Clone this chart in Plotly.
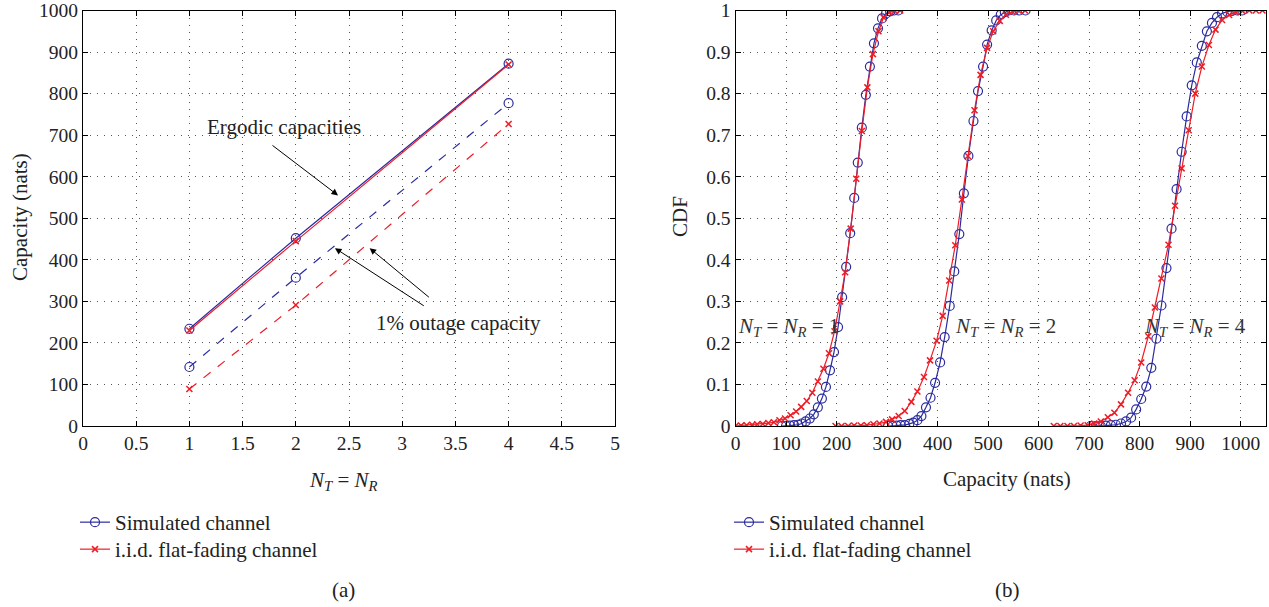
import plotly.graph_objects as go

# ---------------- data: panel (a) ----------------
nt_nr = [1, 2, 4]
ergodic_sim = [234, 452, 872]
ergodic_iid = [230, 445, 870]
outage_sim = [142, 357, 777]
outage_iid = [89, 291, 727]

# ---------------- data: panel (b) CDF curves ----------------
sim1_x = [92, 100, 108, 116, 124, 131, 139, 147, 155, 163, 171, 179, 187, 195, 203,
          211, 219, 227, 235, 242, 250, 258, 266, 274, 282, 290, 298, 306, 314, 322]
sim1_y = [0, 0, 0.001, 0.002, 0.003, 0.006, 0.011, 0.018, 0.028, 0.045, 0.066, 0.094,
          0.134, 0.178, 0.238, 0.310, 0.383, 0.464, 0.549, 0.634, 0.718, 0.797, 0.865,
          0.921, 0.957, 0.981, 0.993, 0.998, 1.0, 1.0]
iid1_x = [0, 11, 22, 33, 43, 54, 65, 76, 87, 98, 109, 120, 130, 141, 152, 163, 174,
          185, 196, 207, 217, 228, 239, 250, 261, 272, 283, 293, 304, 315, 326]
iid1_y = [0, 0.001, 0.002, 0.003, 0.004, 0.005, 0.007, 0.009, 0.014, 0.018, 0.026,
          0.035, 0.046, 0.060, 0.080, 0.107, 0.138, 0.175, 0.228, 0.300, 0.370, 0.475,
          0.595, 0.710, 0.815, 0.895, 0.950, 0.983, 0.995, 0.999, 1.0]

sim2_x = [302, 311, 319, 327, 335, 344, 352, 360, 368, 377, 386, 395, 405, 414, 424,
          433, 443, 452, 461, 471, 480, 490, 498, 507, 516, 525, 533, 541, 551, 562, 574]
sim2_y = [0, 0, 0.001, 0.002, 0.002, 0.005, 0.008, 0.014, 0.024, 0.045, 0.068, 0.104,
          0.153, 0.214, 0.289, 0.372, 0.462, 0.560, 0.650, 0.734, 0.806, 0.865, 0.918,
          0.952, 0.976, 0.990, 0.996, 1.0, 1.0, 1.0, 1.0]
iid2_x = [198, 210, 223, 235, 248, 260, 273, 285, 298, 310, 323, 335, 348, 360, 373,
          385, 398, 410, 423, 435, 448, 460, 473, 485, 498, 510, 523, 535, 548, 560, 573]
iid2_y = [0, 0, 0, 0.001, 0.001, 0.002, 0.004, 0.006, 0.010, 0.016, 0.024, 0.036,
          0.058, 0.083, 0.118, 0.158, 0.205, 0.265, 0.350, 0.435, 0.545, 0.650, 0.760,
          0.845, 0.910, 0.950, 0.975, 0.990, 0.997, 1.0, 1.0]

sim4_x = [703, 713, 723, 733, 743, 753, 763, 773, 783, 793, 803, 813, 823, 833, 843,
          853, 863, 873, 883, 893, 903, 913, 923, 933, 943, 953, 963, 973, 983, 993, 1003]
sim4_y = [0, 0, 0, 0.001, 0.002, 0.003, 0.006, 0.011, 0.020, 0.040, 0.065, 0.095,
          0.140, 0.210, 0.290, 0.380, 0.475, 0.570, 0.660, 0.745, 0.820, 0.875, 0.915,
          0.950, 0.970, 0.984, 0.993, 0.997, 0.999, 1.0, 1.0]
iid4_x = [630, 643, 657, 670, 683, 697, 710, 723, 737, 750, 763, 777, 790, 803, 817,
          830, 843, 857, 870, 883, 897, 910, 923, 937, 950, 963, 977, 990, 1003, 1017,
          1030, 1043]
iid4_y = [0, 0, 0, 0, 0.001, 0.002, 0.006, 0.011, 0.021, 0.032, 0.052, 0.080, 0.110,
          0.153, 0.216, 0.285, 0.355, 0.436, 0.530, 0.620, 0.712, 0.800, 0.865, 0.917,
          0.954, 0.977, 0.989, 0.996, 0.999, 1.0, 1.0, 1.0]

curve_labels = ["1", "2", "4"]
label_x = [0, 430, 805]
label_y = 0.238

# tick values
xa_ticks = [0, 0.5, 1, 1.5, 2, 2.5, 3, 3.5, 4, 4.5, 5]
ya_ticks = list(range(0, 1001, 100))
xb_ticks = list(range(0, 1001, 100))
yb_ticks = [0, 0.1, 0.2, 0.3, 0.4, 0.5, 0.6, 0.7, 0.8, 0.9, 1]

BLUE = "#2b2ba0"
RED = "#ee1c25"
FONT = "Liberation Serif, Times New Roman, Noto Serif, DejaVu Serif, serif"
FS = 21
TFS = 19.5
TXT = "#222222"

W = 1269.0
H = 607.0


def fx(px):
    return px / W


def fy(py):
    return (H - py) / H


fig = go.Figure()


def blue_marker():
    return dict(symbol="circle-open", size=9, color=BLUE, line=dict(width=1.2, color=BLUE))


def red_marker():
    return dict(symbol="x-thin-open", size=6, color=RED, line=dict(width=1.5, color=RED))


# panel (a)
fig.add_trace(go.Scatter(x=nt_nr, y=ergodic_sim, mode="lines+markers", name="Simulated channel",
                         line=dict(color=BLUE, width=1.2), marker=blue_marker(),
                         xaxis="x", yaxis="y", legend="legend"))
fig.add_trace(go.Scatter(x=nt_nr, y=ergodic_iid, mode="lines+markers", name="i.i.d. flat-fading channel",
                         line=dict(color=RED, width=1.2), marker=red_marker(),
                         xaxis="x", yaxis="y", legend="legend3"))
fig.add_trace(go.Scatter(x=nt_nr, y=outage_sim, mode="lines+markers", showlegend=False,
                         line=dict(color=BLUE, width=1.2, dash="dash"), marker=blue_marker(),
                         xaxis="x", yaxis="y"))
fig.add_trace(go.Scatter(x=nt_nr, y=outage_iid, mode="lines+markers", showlegend=False,
                         line=dict(color=RED, width=1.2, dash="dash"), marker=red_marker(),
                         xaxis="x", yaxis="y"))

# panel (b)
sims = [(sim1_x, sim1_y), (sim2_x, sim2_y), (sim4_x, sim4_y)]
iids = [(iid1_x, iid1_y), (iid2_x, iid2_y), (iid4_x, iid4_y)]
for i, (xs, ys) in enumerate(sims):
    fig.add_trace(go.Scatter(x=xs, y=ys, mode="lines+markers", name="Simulated channel",
                             showlegend=(i == 0), legend="legend2",
                             line=dict(color=BLUE, width=1.2), marker=blue_marker(),
                             xaxis="x2", yaxis="y2"))
for i, (xs, ys) in enumerate(iids):
    fig.add_trace(go.Scatter(x=xs, y=ys, mode="lines+markers", name="i.i.d. flat-fading channel",
                             showlegend=(i == 0), legend="legend4",
                             line=dict(color=RED, width=1.2), marker=red_marker(),
                             xaxis="x2", yaxis="y2"))

axis_common = dict(showgrid=True, gridcolor="#555555", griddash="1px,6px", gridwidth=1.2,
                   zeroline=False, showline=True, linecolor="black", linewidth=1,
                   mirror="ticks", ticks="inside", ticklen=5, tickcolor="black",
                   automargin=False, ticklabeloverflow="allow",
                   tickfont=dict(family=FONT, size=TFS, color=TXT))

y_dom = [fy(426), fy(10.5)]


def legend_at(px, py_center):
    return dict(x=fx(px), y=fy(py_center - 20), xanchor="left", yanchor="top",
                bgcolor="rgba(0,0,0,0)", font=dict(family=FONT, size=FS, color=TXT),
                tracegroupgap=0, itemwidth=30)


fig.update_layout(
    template="none",
    width=1269, height=607,
    margin=dict(l=0, r=0, t=0, b=0, autoexpand=False),
    paper_bgcolor="white", plot_bgcolor="white",
    font=dict(family=FONT, size=FS, color=TXT),
    xaxis=dict(domain=[fx(83), fx(615)], range=[0, 5], tickvals=xa_ticks, anchor="y", **axis_common),
    yaxis=dict(domain=y_dom, range=[0, 1000], tickvals=ya_ticks, anchor="x", **axis_common),
    xaxis2=dict(domain=[fx(735.5), fx(1266)], range=[0, 1050], tickvals=xb_ticks, anchor="y2", **axis_common),
    yaxis2=dict(domain=y_dom, range=[0, 1], tickvals=yb_ticks, anchor="x2", **axis_common),
    legend=legend_at(75, 522),
    legend3=legend_at(75, 549),
    legend2=legend_at(729, 522),
    legend4=legend_at(729, 549),
)

ann = []


def paper_text(text, px, py, angle=0):
    return dict(text=text, x=fx(px), y=fy(py), xref="paper", yref="paper",
                xanchor="center", yanchor="middle", showarrow=False, textangle=angle,
                font=dict(family=FONT, size=FS, color=TXT))


# axis titles and panel labels
ann.append(paper_text("<i>N</i><sub><i>T</i></sub> = <i>N</i><sub><i>R</i></sub>", 343, 481))
ann.append(paper_text("Capacity (nats)", 1007, 479))
ann.append(paper_text("Capacity (nats)", 20, 217, -90))
ann.append(paper_text("CDF", 680, 217, -90))
ann.append(paper_text("(a)", 343, 590))
ann.append(paper_text("(b)", 1007, 590))

# panel (a) annotations
ann.append(dict(text="Ergodic capacities", x=1.89, y=720, xref="x", yref="y",
                xanchor="center", yanchor="middle",
                showarrow=False, font=dict(family=FONT, size=FS, color=TXT)))
ann.append(dict(text="", x=2.397, y=555, ax=1.767, ay=678, xref="x", yref="y",
                axref="x", ayref="y", showarrow=True, arrowhead=2, arrowsize=1.3,
                arrowwidth=1, arrowcolor="black"))
ann.append(dict(text="1% outage capacity", x=3.53, y=249, xref="x", yref="y",
                xanchor="center", yanchor="middle",
                showarrow=False, font=dict(family=FONT, size=FS, color=TXT)))
ann.append(dict(text="", x=2.368, y=428, ax=3.217, ay=287, xref="x", yref="y",
                axref="x", ayref="y", showarrow=True, arrowhead=2, arrowsize=1.3,
                arrowwidth=1, arrowcolor="black"))
ann.append(dict(text="", x=2.694, y=428, ax=3.265, ay=307, xref="x", yref="y",
                axref="x", ayref="y", showarrow=True, arrowhead=2, arrowsize=1.3,
                arrowwidth=1, arrowcolor="black"))

# panel (b) curve labels
for lx, lab in zip(label_x, curve_labels):
    ann.append(dict(text="<i>N</i><sub><i>T</i></sub> = <i>N</i><sub><i>R</i></sub> = " + lab,
                    x=lx, y=label_y, xref="x2", yref="y2", xanchor="left", yanchor="middle",
                    showarrow=False, font=dict(family=FONT, size=FS, color="#333333")))

fig.update_layout(annotations=ann)

fig.write_html("out.html",
               config={"displayModeBar": False},
               post_script="document.body.style.margin='0px';document.body.style.overflow='hidden';")
